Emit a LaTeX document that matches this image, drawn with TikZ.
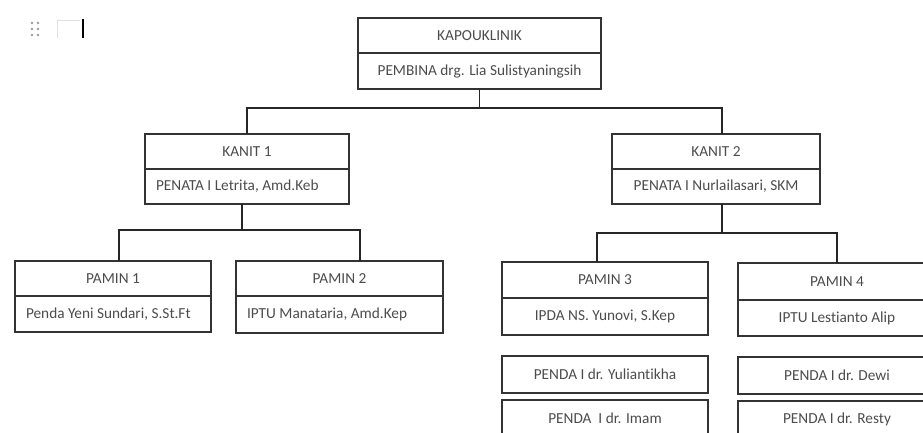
\documentclass[tikz,border=0pt]{standalone}
\usepackage{fontspec}
\setmainfont{Carlito}[Ligatures=NoCommon]
\usetikzlibrary{positioning}

\begin{document}
\begin{tikzpicture}[x=1pt,y=-1pt,font=\fontsize{15.3}{17}\selectfont,
	orgbox/.style={draw=black!80,line width=1.5pt,outer sep=0pt,inner sep=0pt,text=black!70},
	headbox/.style={orgbox,minimum height=35pt},
	namebox/.style={orgbox,minimum height=36pt},
	nameleft/.style={namebox,inner xsep=11pt,align=flush left},
	pendabox/.style={orgbox,minimum height=37pt,minimum width=206pt},
	link/.style={draw=black!85,line width=1.5pt},
]
	\useasboundingbox (0,0) rectangle (923,432);

	% handle in the corner
	\foreach \i in {0,1}
		\foreach \j in {0,1,2}
			\fill[black!40] (32+\i*6,23+\j*6) circle (1.4);
	\draw[black!12] (57,38) -- (57,20) -- (80,20);
	\draw[line width=1.5pt] (83,19) -- (83,38);

	% top
	\node[headbox,minimum width=243pt] (kapo) at (479.5,35.5) {KAPOUKLINIK};
	\node[namebox,minimum width=243pt,below=0pt of kapo] (kapon) {PEMBINA drg. Lia Sulistyaningsih};

	% kanit
	\node[headbox,minimum width=204pt] (kanit1) at (247,151.5) {KANIT 1};
	\node[nameleft,text width=182pt,minimum height=35pt,below=0pt of kanit1] (kanit1n) {PENATA I Letrita, Amd.Keb};
	\node[headbox,minimum width=208pt] (kanit2) at (716,151.5) {KANIT 2};
	\node[namebox,minimum width=208pt,minimum height=35pt,below=0pt of kanit2] (kanit2n) {PENATA I Nurlailasari, SKM};

	% pamin
	\node[headbox,minimum width=196pt] (pamin1) at (113,278.5) {PAMIN 1};
	\node[nameleft,text width=174pt,below=0pt of pamin1] (pamin1n) {Penda Yeni Sundari, S.St.Ft};
	\node[headbox,minimum width=207pt] (pamin2) at (339.5,278.5) {PAMIN 2};
	\node[nameleft,text width=185pt,minimum height=37pt,below=0pt of pamin2] (pamin2n) {IPTU Manataria, Amd.Kep};
	\node[headbox,minimum width=206pt,minimum height=36pt] (pamin3) at (605,280) {PAMIN 3};
	\node[namebox,minimum width=206pt,minimum height=37pt,below=0pt of pamin3] (pamin3n) {IPDA NS. Yunovi, S.Kep};
	\node[headbox,minimum width=198pt,minimum height=37pt] (pamin4) at (837,281.5) {PAMIN 4};
	\node[namebox,minimum width=198pt,below=0pt of pamin4] (pamin4n) {IPTU Lestianto Alip};

	% penda
	\node[pendabox,below=21pt of pamin3n] (penda1) {PENDA I dr. Yuliantikha};
	\node[pendabox,below=7pt of penda1] (penda2) {PENDA\ \ I dr. Imam};
	\node[pendabox,minimum width=198pt,below=21pt of pamin4n] (penda3) {PENDA I dr. Dewi};
	\node[pendabox,minimum width=198pt,below=7pt of penda3] (penda4) {PENDA I dr. Resty};

	\path[link]
		(kapon.south) -- ++(0,19) -| (kanit1.north)
		(kapon.south) ++(0,19) -| ([xshift=6pt]kanit2.north)
		([xshift=-5pt]kanit1n.south) -- ++(0,26) -| ([xshift=6pt]pamin1.north)
		([xshift=-5pt]kanit1n.south) ++(0,26) -| ([xshift=20.5pt]pamin2.north)
		([xshift=6pt]kanit2n.south) -- ++(0,29) -| ([xshift=-8pt]pamin3.north)
		([xshift=6pt]kanit2n.south) ++(0,29) -| (pamin4.north)
	;
\end{tikzpicture}
\end{document}
